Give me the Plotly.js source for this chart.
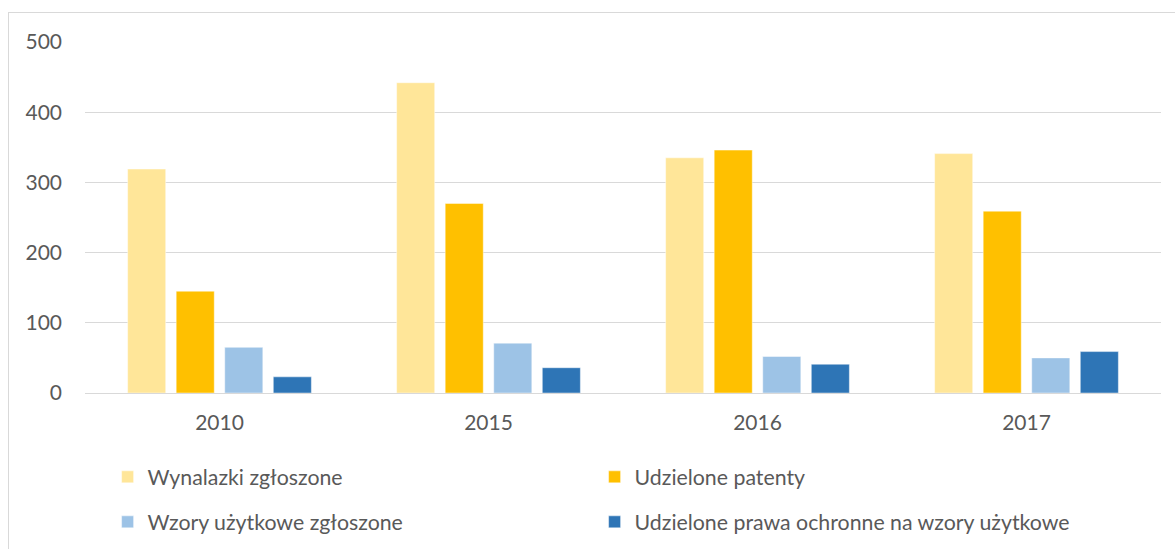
<!DOCTYPE html>
<html>
<head>
<meta charset="utf-8">
<script src="https://cdn.plot.ly/plotly-3.0.1.min.js"></script>
<style>
  html, body { margin: 0; padding: 0; background: #fff; }
  #wrap { position: relative; width: 1175px; height: 549px; overflow: hidden; }
  #chart { width: 1175px; height: 549px; }
  #frame { position: absolute; left: 8px; top: 12px; width: 1200px; height: 600px;
           border: 1px solid #d9d9d9; box-sizing: border-box; pointer-events: none; }
</style>
</head>
<body>
<div id="wrap">
  <div id="chart"></div>
  <div id="frame"></div>
</div>
<script>
const years = ['2010', '2015', '2016', '2017'];
const seriesNames = [
  'Wynalazki zgłoszone',
  'Udzielone patenty',
  'Wzory użytkowe zgłoszone',
  'Udzielone prawa ochronne na wzory użytkowe'
];
const wynalazkiZgloszone = [319, 442, 335, 341];
const udzielonePatenty = [145, 270, 346, 259];
const wzoryZgloszone = [65, 71, 52, 50];
const udzielonePrawa = [23, 36, 41, 59];
const colors = ['#FFE699', '#FFC000', '#9DC3E6', '#2E75B6'];
const yTicks = [0, 100, 200, 300, 400, 500];

const values = [wynalazkiZgloszone, udzielonePatenty, wzoryZgloszone, udzielonePrawa];
const legends = ['legend', 'legend', 'legend2', 'legend2'];

const fontFamily = 'Lato, Carlito, Calibri, sans-serif';
const textColor = '#595959';

const data = values.map((v, i) => ({
  type: 'bar',
  name: seriesNames[i],
  x: years,
  y: v,
  marker: { color: colors[i], line: { color: 'rgba(255,255,255,0.6)', width: 0.75 } },
  legend: legends[i],
  hoverinfo: 'x+y+name'
}));

const legendCommon = {
  orientation: 'h',
  x: 0.021,
  xanchor: 'left',
  yanchor: 'middle',
  entrywidth: 442,
  entrywidthmode: 'pixels',
  font: { family: fontFamily, size: 21.3, color: textColor },
  bgcolor: 'rgba(0,0,0,0)',
  traceorder: 'normal'
};

const layout = {
  width: 1175,
  height: 549,
  margin: { l: 85, r: 14, t: 42, b: 156, autoexpand: false },
  paper_bgcolor: '#ffffff',
  plot_bgcolor: '#ffffff',
  barmode: 'group',
  bargap: 0.278,
  bargroupgap: 0.216,
  font: { family: fontFamily, size: 21, color: textColor },
  xaxis: {
    type: 'category',
    showgrid: false,
    zeroline: false,
    showline: false,
    ticks: '',
    tickfont: { family: fontFamily, size: 21, color: textColor },
    ticklabelstandoff: 15
  },
  yaxis: {
    range: [0, 500],
    tickmode: 'array',
    tickvals: yTicks,
    ticktext: yTicks.map(String),
    showgrid: true,
    gridcolor: '#d9d9d9',
    gridwidth: 1.3,
    zeroline: true,
    zerolinecolor: '#d9d9d9',
    zerolinewidth: 1.3,
    showline: false,
    ticks: '',
    tickfont: { family: fontFamily, size: 21, color: textColor },
    ticklabelstandoff: 22
  },
  legend: Object.assign({}, legendCommon, { y: (393 - 477) / 351 }),
  legend2: Object.assign({}, legendCommon, { y: (393 - 522) / 351 }),
  showlegend: true
};

Plotly.newPlot('chart', data, layout, { displayModeBar: false, staticPlot: false });
</script>
</body>
</html>
